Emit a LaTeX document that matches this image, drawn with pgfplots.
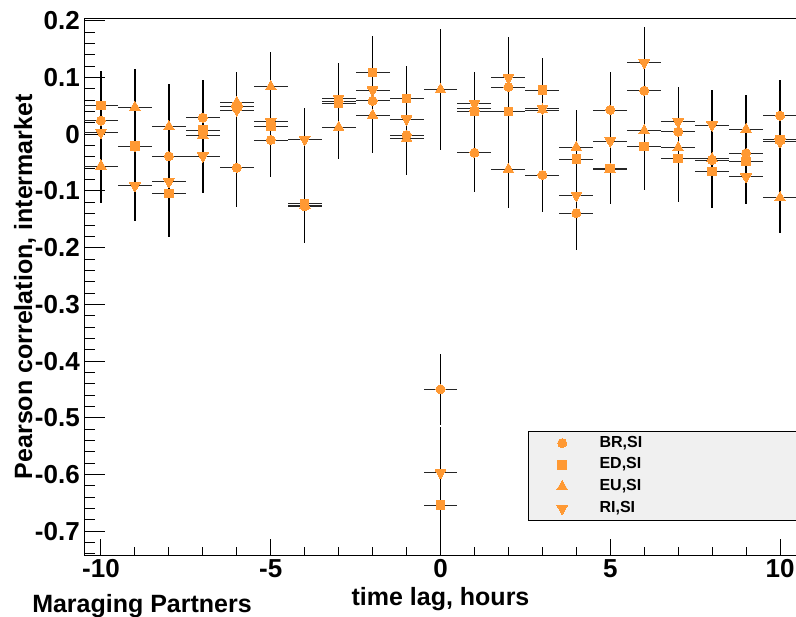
\documentclass[border=0pt]{standalone}
\usepackage{fontspec}
\setmainfont{Liberation Sans}
\usepackage{pgfplots}
\pgfplotsset{compat=1.18}
\usepackage{pgfplotstable}
\definecolor{mk}{RGB}{255,153,51}
\definecolor{lgfill}{RGB}{240,240,240}

\pgfplotstableread{
x y ey
-10 0.024 0.063
-9 -0.022 0.065
-8 -0.0388 0.075
-7 0.0293 0.066
-6 -0.059 0.070
-5 -0.010 0.065
-4 -0.127 0.065
-3 0.058 0.060
-2 0.059 0.066
-1 -0.0012 0.060
0 -0.450 0.062
1 -0.0324 0.070
2 0.0834 0.070
3 -0.0718 0.066
4 -0.139 0.065
5 0.043 0.067
6 0.077 0.066
7 0.0046 0.066
8 -0.0453 0.063
9 -0.0335 0.055
10 0.0328 0.063
}\tabBR

\pgfplotstableread{
x y ey
-10 0.0505 0.061
-9 -0.0206 0.065
-8 -0.1047 0.077
-7 0.0076 0.066
-6 0.049 0.060
-5 0.0134 0.063
-4 -0.122 0.065
-3 0.0547 0.060
-2 0.1087 0.065
-1 0.0635 0.057
0 -0.654 0.100
1 0.040 0.063
2 0.040 0.070
3 0.078 0.056
4 -0.0436 0.065
5 -0.060 0.062
6 -0.0218 0.076
7 -0.0423 0.078
8 -0.066 0.0645
9 -0.048 0.055
10 -0.0088 0.063
}\tabED

\pgfplotstableread{
x y ey
-10 -0.056 0.066
-9 0.0476 0.067
-8 0.0134 0.075
-7 -0.0012 0.066
-6 0.056 0.053
-5 0.084 0.062
-4 -0.125 0.067
-3 0.0123 0.056
-2 0.0335 0.067
-1 -0.007 0.065
0 0.079 0.106
1 0.046 0.063
2 -0.0617 0.069
3 0.043 0.062
4 -0.023 0.066
5 -0.062 0.061
6 0.0064 0.066
7 -0.0236 0.066
8 -0.043 0.063
9 0.0088 0.060
10 -0.1118 0.063
}\tabEU

\pgfplotstableread{
x y ey
-10 0.0035 0.063
-9 -0.0906 0.062
-8 -0.0835 0.075
-7 -0.0383 0.066
-6 0.043 0.064
-5 0.022 0.063
-4 -0.0088 0.055
-3 0.0635 0.062
-2 0.078 0.066
-1 0.027 0.060
0 -0.597 0.080
1 0.0547 0.055
2 0.0998 0.072
3 0.046 0.062
4 -0.1076 0.065
5 -0.0118 0.064
6 0.1263 0.0624
7 0.0222 0.062
8 0.0164 0.062
9 -0.0748 0.049
10 -0.013 0.063
}\tabRI

\pgfplotsset{
  xerr/.style={forget plot, only marks, mark=none, error bars/.cd, x dir=both, x fixed=0.5,
    error bar style={black!85, line width=0.6pt}, error mark=none},
  yerr/.style={forget plot, only marks, mark=none, error bars/.cd, y dir=both, y explicit,
    error bar style={black, line width=1pt}, error mark=none},
}

\begin{document}
\begin{tikzpicture}
\begin{axis}[
  at={(63pt,-416.25pt)}, anchor=south west,
  scale only axis, width=534.75pt, height=402.375pt,
  xmin=-10.5, xmax=10.5, ymin=-0.742, ymax=0.2042,
  axis line style={black, line width=0.75pt},
  tick align=inside, xtick pos=bottom, ytick pos=left,
  tick style={black, line width=0.75pt},
  xtick={-10,-5,0,5,10}, xticklabels={-10,-5,0,5,10},
  minor xtick={-10,-9,...,10},
  ytick={-0.7,-0.6,-0.5,-0.4,-0.3,-0.2,-0.1,0,0.1,0.2},
  yticklabels={-0.7,-0.6,-0.5,-0.4,-0.3,-0.2,-0.1,0,0.1,0.2},
  minor ytick={-0.74,-0.72,...,0.201},
  major tick length=16pt, minor tick length=8pt,
  xtick style={/pgfplots/major tick length=12pt, /pgfplots/minor tick length=6pt},
  /pgf/number format/assume math mode=true,
  ticklabel style={font=\fontsize{19.5}{20}\selectfont\bfseries},
  yticklabel style={anchor=east, inner sep=0pt, xshift=-3pt},
  xticklabel style={anchor=north, inner sep=0pt, yshift=-3pt},
  xlabel={time lag, hours},
  ylabel={Pearson correlation, intermarket},
  label style={font=\fontsize{18.75}{20}\selectfont\bfseries},
  xlabel style={at={(axis description cs:0.5,-0.0932)}, anchor=base, inner sep=0pt},
  ylabel style={at={(axis description cs:-0.0729,0.5)}, anchor=base, rotate=0, inner sep=0pt},
  legend image code/.code={\path[draw=none] (0pt,-1pt) rectangle (50.3pt,1pt); \draw[#1] plot coordinates {(25.3pt,0pt)};},
  legend cell align=left,
  legend style={at={(axis description cs:0.6227,0.2317)}, anchor=north west,
    draw=black, line width=0.75pt, fill=lgfill, inner xsep=0pt, inner ysep=3.5pt,
    row sep=5.3pt, column sep=3pt,
    nodes={inner sep=0pt, text height=8.5pt, text depth=2.5pt, text width=160pt,
      font=\fontsize{12}{13}\selectfont\bfseries}},
  clip=true,
]
\addplot[xerr] table[x=x,y=y]{\tabBR};
\addplot[xerr] table[x=x,y=y]{\tabED};
\addplot[xerr] table[x=x,y=y]{\tabEU};
\addplot[xerr] table[x=x,y=y]{\tabRI};
\addplot[yerr] table[x=x,y=y,y error=ey]{\tabBR};
\addplot[yerr] table[x=x,y=y,y error=ey]{\tabED};
\addplot[yerr] table[x=x,y=y,y error=ey]{\tabEU};
\addplot[yerr] table[x=x,y=y,y error=ey]{\tabRI};

\addplot[only marks, color=mk, mark=*, mark size=3.4pt, mark options={fill=mk, draw=mk, line width=0pt}] table[x=x,y=y]{\tabBR};
\addlegendentry{BR,SI}
\addplot[only marks, color=mk, mark=square*, mark size=3.2pt, mark options={fill=mk, draw=mk, line width=0pt}] table[x=x,y=y]{\tabED};
\addlegendentry{ED,SI}
\addplot[only marks, color=mk, mark=triangle*, mark size=4.6pt, mark options={fill=mk, draw=mk, line width=0pt}] table[x=x,y=y]{\tabEU};
\addlegendentry{EU,SI}
\addplot[only marks, color=mk, mark=triangle*, mark size=4.6pt, mark options={fill=mk, draw=mk, line width=0pt, rotate=180}] table[x=x,y=y]{\tabRI};
\addlegendentry{RI,SI}
\end{axis}
\node[anchor=base west, inner sep=0pt, font=\fontsize{18.75}{20}\selectfont\bfseries] at (24pt,-459pt) {Maraging Partners};
\pgfresetboundingbox
\path (0pt,0pt) rectangle (597pt,-462.75pt);
\end{tikzpicture}
\end{document}
